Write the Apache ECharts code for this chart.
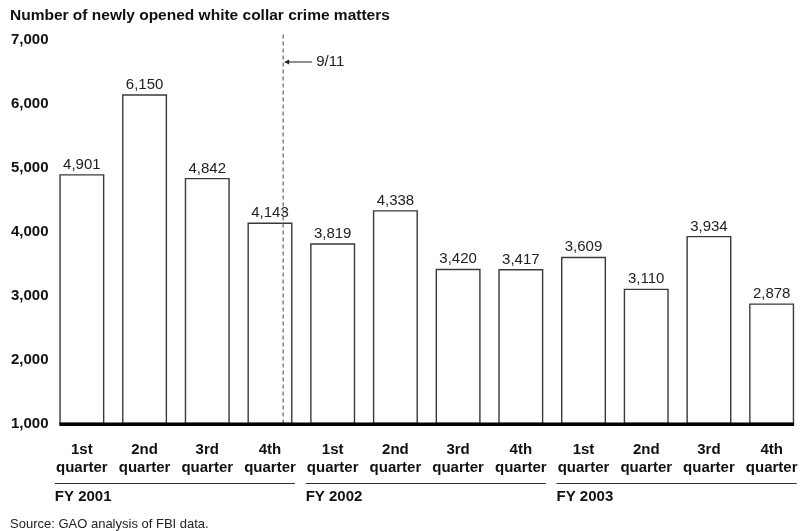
<!DOCTYPE html>
<html><head><meta charset="utf-8">
<script src="https://cdn.jsdelivr.net/npm/echarts@6/dist/echarts.min.js"></script>
<style>html,body{margin:0;padding:0;background:#fff}#c{width:803px;height:531px}</style>
</head><body><div id="c"></div>
<script>
const titleText = 'Number of newly opened white collar crime matters';
const sourceText = 'Source: GAO analysis of FBI data.';
const categories = ['1st\nquarter','2nd\nquarter','3rd\nquarter','4th\nquarter',
                    '1st\nquarter','2nd\nquarter','3rd\nquarter','4th\nquarter',
                    '1st\nquarter','2nd\nquarter','3rd\nquarter','4th\nquarter'];
const values = [4901, 6150, 4842, 4143, 3819, 4338, 3420, 3417, 3609, 3110, 3934, 2878];
const yMin = 1000, yMax = 7000, yStep = 1000;
const groups = ['FY 2001', 'FY 2002', 'FY 2003'];
const groupFirst = [0, 4, 8];
const groupLast = [3, 7, 11];
const eventPos = 3.21;          // position of the 9/11 marker in category units
const eventLabel = '9/11';
const eventArrowValue = 6656;    // height of the arrow annotation

const FONT = '"Liberation Sans", Arial, Helvetica, sans-serif';
const fmt = v => Number(v).toLocaleString('en-US');
const BAR_W = 45;

const chart = echarts.init(document.getElementById('c'), null, {renderer: 'canvas'});
chart.setOption({
  animation: false,
  backgroundColor: '#fff',
  textStyle: {fontFamily: FONT},
  grid: {left: 50.5, top: 40, width: 755.4, height: 383.5, containLabel: false},
  xAxis: [{
    type: 'category', data: categories,
    axisLine: {show: false}, axisTick: {show: false},
    axisLabel: {interval: 0, margin: 17, fontFamily: FONT, fontWeight: 'bold', fontSize: 15,
      lineHeight: 18, color: '#111'}
  }, {
    type: 'value', min: -0.5, max: 11.5, show: false
  }],
  yAxis: {
    type: 'value', min: yMin, max: yMax, interval: yStep,
    axisLine: {show: false}, axisTick: {show: false}, splitLine: {show: false},
    axisLabel: {margin: 2, fontFamily: FONT, fontWeight: 'bold', fontSize: 15, color: '#111',
      formatter: fmt}
  },
  series: [{
    type: 'bar', data: values, barWidth: BAR_W, xAxisIndex: 0,
    itemStyle: {color: '#fff', borderColor: '#3a3a3a', borderWidth: 1.4},
    label: {show: true, position: 'top', distance: 2, fontFamily: FONT, fontSize: 15, color: '#222',
      formatter: p => fmt(p.value)},
    silent: true
  }, {
    type: 'line', xAxisIndex: 1, data: [[eventPos, yMin], [eventPos, yMax + 100]],
    symbol: 'none', clip: false, silent: true,
    lineStyle: {color: '#444', width: 1, type: [4, 3]}
  }]
});

function drawExtras() {
  const g = [];
  const px = (i, v) => chart.convertToPixel({seriesIndex: 0}, [i, v]);
  const p0 = px(0, yMin), p11 = px(values.length - 1, yMin);
  // title
  g.push({type: 'text', x: 10, y: 15.5, style: {text: titleText, font: 'bold 15.5px ' + FONT, fill: '#111', verticalAlign: 'middle'}});
  // baseline
  g.push({type: 'rect', shape: {x: p0[0] - BAR_W / 2, y: p0[1] - 1, width: p11[0] - p0[0] + BAR_W, height: 3.5},
    style: {fill: '#000'}, z: 10});
  // groups
  groups.forEach((name, k) => {
    const a = px(groupFirst[k], yMin)[0] - 27;
    const b = px(groupLast[k], yMin)[0] + 25;
    g.push({type: 'line', shape: {x1: a, y1: 483.5, x2: b, y2: 483.5}, style: {stroke: '#333', lineWidth: 1}});
    g.push({type: 'text', x: a, y: 497, style: {text: name, font: 'bold 15px ' + FONT, fill: '#111', verticalAlign: 'middle'}});
  });
  // event arrow
  const e = chart.convertToPixel({seriesIndex: 1}, [eventPos, eventArrowValue]);
  g.push({type: 'line', shape: {x1: e[0] + 4, y1: e[1], x2: e[0] + 29, y2: e[1]}, style: {stroke: '#222', lineWidth: 1}});
  g.push({type: 'polygon', shape: {points: [[e[0] + 1, e[1]], [e[0] + 6, e[1] - 2.5], [e[0] + 6, e[1] + 2.5]]}, style: {fill: '#222'}});
  g.push({type: 'text', x: e[0] + 33, y: e[1], style: {text: eventLabel, font: '15px ' + FONT, fill: '#222', verticalAlign: 'middle'}});
  // source
  g.push({type: 'text', x: 10, y: 524.5, style: {text: sourceText, font: '13px ' + FONT, fill: '#222', verticalAlign: 'middle'}});
  chart.setOption({graphic: g});
}
drawExtras();
</script>
</body></html>
